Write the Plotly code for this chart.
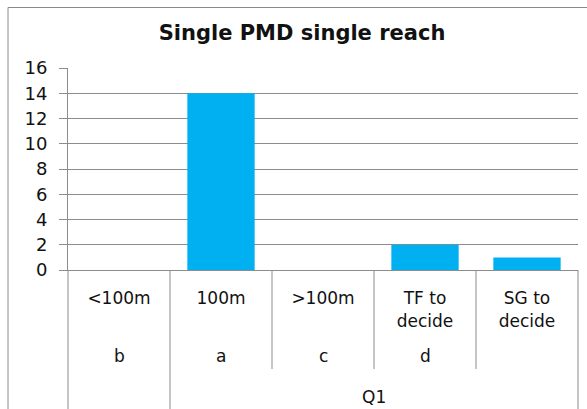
import plotly.graph_objects as go

# ---- data ----
categories = ["<100m", "100m", ">100m", "TF to<br>decide", "SG to<br>decide"]
codes = ["b", "a", "c", "d", ""]
groups = ["", "Q1", "Q1", "Q1", "Q1"]
values = [0, 14, 0, 2, 1]
y_ticks = [0, 2, 4, 6, 8, 10, 12, 14, 16]
title_text = "Single PMD single reach"

W, H = 587, 409
L, R, T, B = 68, 9, 68, 139
plot_w = W - L - R
plot_h = H - T - B
grid_col = "#8c8c8c"
font_fam = "DejaVu Sans"
txt_col = "#111111"

def py(pix):  # pixel y -> paper y
    return (H - B - pix) / plot_h

def px(pix):
    return (pix - L) / plot_w

fig = go.Figure(go.Bar(
    x=list(range(len(categories))), y=values,
    marker=dict(color="#00B0F0", line=dict(width=0)),
    width=0.66,
))

n = len(categories)
shapes = []
# category separators: full height where the group changes or at the ends
for i in range(n + 1):
    full = (i == 0) or (i == n) or (groups[i - 1] != groups[i])
    shapes.append(dict(type="line", xref="x domain", yref="paper",
                       x0=i / n, x1=i / n, y0=py(415) if full else py(369), y1=0,
                       line=dict(color=grid_col, width=1)))
# outer chart border
shapes.append(dict(type="rect", xref="paper", yref="paper",
                   x0=px(8), x1=px(600), y0=py(425), y1=py(7.5),
                   line=dict(color="#8a8a8a", width=1), fillcolor="rgba(0,0,0,0)"))

annotations = []
for i, c in enumerate(codes):
    if c:
        annotations.append(dict(xref="x", yref="paper", x=i, y=py(356), text=c,
                                showarrow=False, yanchor="middle",
                                font=dict(family=font_fam, size=17, color=txt_col)))
grp_idx = [i for i, g in enumerate(groups) if g == "Q1"]
annotations.append(dict(xref="x", yref="paper", x=(grp_idx[0] + grp_idx[-1]) / 2,
                        y=py(397), text="Q1", showarrow=False, yanchor="middle",
                        font=dict(family=font_fam, size=17, color=txt_col)))

fig.update_layout(
    width=W, height=H,
    margin=dict(l=L, r=R, t=T, b=B, pad=0, autoexpand=False),
    paper_bgcolor="white", plot_bgcolor="white",
    showlegend=False,
    title=dict(text="<b>" + title_text + "</b>", x=px(302), xref="paper", xanchor="center",
               y=1 - 33 / H, yanchor="middle", automargin=False,
               font=dict(family=font_fam, size=21, color=txt_col)),
    xaxis=dict(
        tickmode="array", tickvals=list(range(n)), ticktext=categories,
        range=[-0.5, n - 0.5], showgrid=False, zeroline=False,
        showline=True, linecolor=grid_col, linewidth=1,
        ticks="", ticklabelstandoff=13, automargin=False,
        tickfont=dict(family=font_fam, size=17, color=txt_col),
    ),
    yaxis=dict(
        range=[0, 16], tickvals=y_ticks,
        showgrid=True, gridcolor=grid_col, gridwidth=1,
        zeroline=False, showline=True, linecolor=grid_col, linewidth=1,
        ticks="outside", ticklen=8, tickcolor=grid_col,
        ticklabelstandoff=8, automargin=False,
        tickfont=dict(family=font_fam, size=18, color=txt_col),
    ),
    shapes=shapes, annotations=annotations,
)

fig.write_html("out.html", config={"displayModeBar": False},
               post_script="document.body.style.margin='0';document.body.style.overflow='hidden';")
